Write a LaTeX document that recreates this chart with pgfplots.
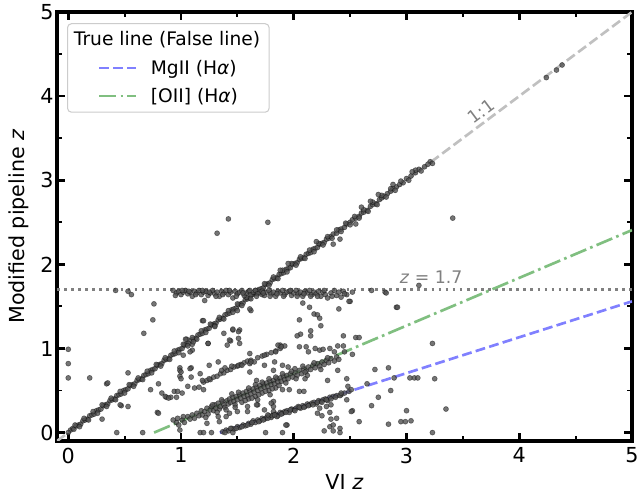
\documentclass[border=0pt]{standalone}
\usepackage{pgfplots}
\pgfplotsset{compat=1.18}
\usepackage{fontspec}
\setmainfont{DejaVu Sans}
\definecolor{silverc}{HTML}{C0C0C0}
\definecolor{mgcol}{HTML}{8080FF}
\definecolor{oiicol}{HTML}{80BF80}
\definecolor{grayc}{HTML}{808080}
\pgfplotsset{dotsty/.style={black, only marks, mark=*, mark size=1.9pt,
  mark options={draw=black, fill=black!68, fill opacity=0.8, draw opacity=0.45, line width=0.45pt}, forget plot}}
\begin{document}
\begin{tikzpicture}
\begin{axis}[
  at={(0,0)}, anchor=south west,
  scale only axis, width=431.25pt, height=321.75pt,
  xmin=-0.1, xmax=5, ymin=-0.1, ymax=5,
  xtick={0,1,2,3,4,5}, ytick={0,1,2,3,4,5}, minor tick num=1,
  tick align=inside, xtick pos=both, ytick pos=both,
  major tick length=6pt, minor tick length=3.5pt,
  major tick style={line width=2pt, black},
  minor tick style={line width=1.4pt, black},
  axis line style={line width=2.3pt},
  tick label style={font=\fontsize{15.5}{18.6}\selectfont},
  /pgf/number format/assume math mode=true,
  xlabel={VI \textit{z}}, ylabel={Modified pipeline \textit{z}},
  label style={font=\fontsize{15.5}{18.6}\selectfont},
  xlabel style={at={(axis description cs:0.5,-0.1142)}, anchor=base},
  ylabel style={at={(axis description cs:-0.0557,0.5)}, anchor=base},
  xticklabel style={yshift=-1.5pt},
  yticklabel style={xshift=1pt},
  legend style={at={(axis description cs:0.0174,0.974)}, anchor=north west,
    draw=black!20, line width=0.8pt, rounded corners=3pt, fill=white,
    fill opacity=0.8, draw opacity=1, text opacity=1,
    font=\fontsize{14}{16.8}\selectfont, inner xsep=4.75pt, inner ysep=4pt,
    row sep=5pt, nodes={inner sep=2pt}},
  legend cell align=left,
  legend image code/.code={\draw[#1] (0pt,0pt) -- (27.75pt,0pt); \path (-18pt,0pt) (35.75pt,0pt);},
]
\addlegendimage{empty legend}
\addlegendentry{\hspace*{-57.75pt}True line (False line)}

% 1:1 and z=1.7 reference lines
\addplot[silverc, line width=2pt, dash pattern=on 7.4pt off 3.2pt, forget plot] coordinates {(-0.2,-0.2) (5.2,5.2)};
\addplot[grayc, line width=2pt, dash pattern=on 2pt off 3.3pt, forget plot] coordinates {(-0.1,1.7) (5,1.7)};

% objects on the 1:1 line
\addplot[dotsty] table {
x y
0.02 0.03
0.04 0.05
0.05 0.04
0.07 0.08
0.09 0.09
0.11 0.10
0.13 0.14
0.15 0.15
0.17 0.16
0.19 0.20
0.21 0.21
0.23 0.22
0.25 0.26
0.27 0.27
0.29 0.28
0.31 0.32
0.33 0.33
0.35 0.34
0.37 0.38
0.39 0.39
0.41 0.40
0.43 0.44
0.45 0.45
0.47 0.46
0.49 0.50
0.51 0.51
0.53 0.52
0.55 0.56
0.57 0.57
0.59 0.58
0.61 0.62
0.63 0.63
0.65 0.64
0.67 0.68
0.69 0.69
0.71 0.70
0.73 0.74
0.75 0.75
0.77 0.76
0.79 0.80
0.81 0.81
0.83 0.82
0.85 0.86
0.87 0.87
0.89 0.88
0.91 0.92
0.93 0.93
0.95 0.94
0.97 0.98
0.99 0.99
1.01 1.00
1.03 1.04
1.05 1.05
1.07 1.06
1.09 1.10
1.11 1.11
1.13 1.12
1.15 1.16
1.17 1.17
1.19 1.18
1.21 1.22
1.23 1.23
1.25 1.24
1.27 1.28
1.29 1.29
1.31 1.30
1.33 1.34
1.35 1.35
1.37 1.36
1.39 1.40
1.41 1.41
1.43 1.42
1.45 1.46
1.47 1.47
1.49 1.48
1.51 1.52
1.53 1.53
1.55 1.54
1.57 1.58
1.59 1.59
1.61 1.60
1.63 1.64
1.65 1.65
1.67 1.66
1.69 1.70
1.71 1.71
1.73 1.72
1.75 1.76
1.77 1.77
1.79 1.78
1.81 1.82
1.83 1.83
1.85 1.84
1.87 1.88
1.89 1.89
1.91 1.90
1.93 1.94
1.95 1.95
1.97 1.96
1.99 2.00
2.01 2.01
2.03 2.02
2.05 2.06
2.07 2.07
2.09 2.08
2.11 2.12
2.13 2.13
2.15 2.14
2.17 2.18
2.19 2.19
2.21 2.20
2.23 2.24
2.25 2.25
2.27 2.26
2.29 2.30
2.31 2.31
2.33 2.33
2.35 2.36
2.38 2.37
2.40 2.41
2.42 2.42
2.45 2.44
2.47 2.48
2.50 2.50
2.52 2.53
2.55 2.55
2.58 2.57
2.60 2.61
2.62 2.62
2.65 2.64
2.68 2.69
2.70 2.71
2.73 2.72
2.76 2.77
2.78 2.79
2.80 2.81
2.83 2.84
2.86 2.87
2.88 2.90
2.91 2.92
2.94 2.95
2.97 2.97
3.00 3.02
3.04 3.05
3.08 3.09
3.11 3.13
3.16 3.16
3.21 3.22
3.23 3.20
0.06 0.09
0.10 0.07
0.14 0.17
0.18 0.15
0.22 0.25
0.26 0.23
0.30 0.33
0.34 0.31
0.38 0.41
0.42 0.39
0.46 0.49
0.50 0.47
0.54 0.57
0.58 0.55
0.62 0.65
0.66 0.63
0.70 0.73
0.74 0.71
0.78 0.81
0.82 0.79
0.86 0.89
0.90 0.87
0.94 0.97
0.98 0.95
1.02 1.05
1.06 1.03
1.10 1.13
1.14 1.11
1.18 1.21
1.22 1.19
1.26 1.29
1.30 1.27
1.34 1.37
1.38 1.35
1.42 1.45
1.46 1.43
1.50 1.53
1.54 1.51
1.58 1.61
1.62 1.59
1.66 1.69
1.70 1.67
1.74 1.77
1.78 1.75
1.82 1.85
1.86 1.83
1.90 1.93
1.94 1.91
1.98 2.01
2.02 1.99
2.06 2.09
2.10 2.07
2.14 2.17
2.18 2.15
2.22 2.25
2.26 2.23
2.30 2.33
2.34 2.31
2.38 2.41
2.42 2.39
2.46 2.49
2.50 2.47
2.54 2.57
2.58 2.55
2.62 2.65
2.66 2.63
2.70 2.74
2.74 2.71
2.78 2.82
2.82 2.80
2.86 2.90
2.90 2.88
2.95 2.99
3.02 3.00
3.08 3.12
3.13 3.11
3.19 3.19
1.95 2.01
2.20 2.27
2.60 2.68
2.75 2.83
2.55 2.48
2.88 2.95
3.05 3.10
2.68 2.75
1.72 1.64
1.50 1.45
1.30 1.26
1.88 1.93
2.35 2.24
2.41 2.30
4.24 4.22
4.33 4.31
4.38 4.37
};

% objects at the z = 1.7 pile-up
\addplot[dotsty] table {
x y
0.42 1.69
0.53 1.68
0.56 1.64
0.93 1.69
0.96 1.66
0.98 1.68
1.00 1.64
1.02 1.67
1.04 1.69
1.06 1.65
1.08 1.67
1.10 1.62
1.12 1.68
1.14 1.66
1.16 1.69
1.18 1.64
1.20 1.67
1.22 1.68
1.24 1.63
1.26 1.66
1.28 1.69
1.30 1.65
1.32 1.67
1.34 1.62
1.36 1.68
1.38 1.66
1.40 1.69
1.42 1.64
1.44 1.67
1.46 1.60
1.48 1.68
1.50 1.65
1.52 1.67
1.54 1.69
1.56 1.63
1.58 1.66
1.60 1.68
1.62 1.64
1.64 1.67
1.66 1.69
1.68 1.65
1.72 1.68
1.74 1.63
1.76 1.67
1.78 1.69
1.80 1.65
1.82 1.67
1.84 1.62
1.86 1.68
1.88 1.66
1.90 1.69
1.92 1.64
1.94 1.67
1.96 1.68
1.98 1.63
2.00 1.66
2.02 1.69
2.04 1.65
2.06 1.67
2.08 1.62
2.10 1.68
2.12 1.66
2.14 1.69
2.16 1.64
2.18 1.67
2.20 1.65
2.22 1.68
2.24 1.62
2.26 1.67
2.28 1.64
2.30 1.60
2.33 1.66
2.36 1.69
2.38 1.63
2.40 1.67
2.42 1.61
2.44 1.68
2.47 1.64
2.50 1.56
2.52 1.67
0.95 1.63
1.01 1.69
1.07 1.68
1.13 1.64
1.19 1.69
1.25 1.67
1.31 1.62
1.37 1.64
1.43 1.69
1.49 1.62
1.55 1.66
1.61 1.69
1.67 1.62
1.73 1.66
1.79 1.62
1.85 1.65
1.91 1.62
1.97 1.69
2.03 1.62
2.09 1.65
2.15 1.62
2.21 1.62
2.27 1.69
2.34 1.62
2.45 1.65
2.69 1.69
2.81 1.67
2.82 1.66
3.11 1.75
};

% objects along the [OII] (Halpha) locus
\addplot[dotsty] table {
x y
0.96 0.12
0.98 0.09
1.01 0.15
1.03 0.12
1.06 0.19
1.08 0.16
1.10 0.21
1.12 0.17
1.14 0.23
1.16 0.20
1.18 0.26
1.19 0.21
1.21 0.25
1.23 0.29
1.24 0.22
1.26 0.27
1.27 0.31
1.29 0.26
1.30 0.33
1.31 0.29
1.33 0.35
1.34 0.28
1.35 0.31
1.37 0.37
1.38 0.33
1.39 0.30
1.41 0.38
1.42 0.34
1.43 0.40
1.44 0.36
1.46 0.42
1.47 0.37
1.48 0.33
1.49 0.43
1.50 0.39
1.52 0.45
1.53 0.41
1.54 0.36
1.55 0.47
1.56 0.43
1.58 0.49
1.59 0.44
1.60 0.40
1.61 0.50
1.62 0.46
1.64 0.52
1.65 0.48
1.66 0.43
1.67 0.54
1.68 0.50
1.70 0.56
1.71 0.52
1.72 0.47
1.73 0.58
1.74 0.54
1.76 0.59
1.77 0.55
1.78 0.50
1.79 0.61
1.80 0.57
1.82 0.62
1.83 0.58
1.84 0.53
1.85 0.64
1.86 0.60
1.88 0.65
1.89 0.61
1.91 0.67
1.92 0.63
1.94 0.68
1.95 0.64
1.97 0.70
1.99 0.66
2.01 0.71
2.03 0.68
2.05 0.74
2.07 0.70
2.09 0.76
2.11 0.73
2.13 0.78
2.15 0.75
2.17 0.80
2.19 0.77
2.21 0.82
2.23 0.79
2.25 0.84
2.27 0.81
2.29 0.86
2.31 0.83
2.33 0.88
2.36 0.85
2.38 0.90
2.40 0.87
1.22 0.18
1.28 0.33
1.32 0.24
1.36 0.39
1.40 0.27
1.45 0.46
1.48 0.30
1.51 0.48
1.57 0.38
1.60 0.53
1.63 0.41
1.66 0.57
1.69 0.45
1.72 0.60
1.75 0.49
1.78 0.64
1.81 0.52
1.84 0.66
1.87 0.56
1.90 0.70
1.93 0.59
1.98 0.73
2.02 0.64
2.08 0.79
2.12 0.68
2.18 0.83
2.24 0.75
2.30 0.89
1.20 0.60
1.23 0.62
1.26 0.63
1.29 0.66
1.32 0.67
1.35 0.70
1.38 0.71
1.41 0.74
1.44 0.75
1.47 0.78
1.50 0.79
1.53 0.81
1.56 0.83
1.59 0.85
1.62 0.86
1.65 0.84
1.68 0.89
1.72 0.91
1.76 0.93
1.80 0.95
1.84 0.97
1.88 1.00
1.92 1.03
};

% objects along the MgII (Halpha) locus
\addplot[dotsty] table {
x y
1.37 0.01
1.40 0.03
1.42 0.02
1.45 0.05
1.47 0.04
1.50 0.07
1.52 0.06
1.55 0.09
1.57 0.08
1.60 0.11
1.62 0.10
1.64 0.14
1.66 0.12
1.68 0.15
1.70 0.14
1.72 0.17
1.74 0.16
1.76 0.18
1.78 0.20
1.80 0.18
1.82 0.21
1.84 0.22
1.86 0.20
1.88 0.24
1.90 0.23
1.92 0.25
1.94 0.26
1.96 0.24
1.98 0.28
2.00 0.27
2.02 0.29
2.04 0.31
2.06 0.29
2.08 0.32
2.10 0.31
2.12 0.34
2.14 0.33
2.16 0.35
2.18 0.36
2.20 0.34
2.22 0.38
2.24 0.37
2.26 0.39
2.28 0.40
2.30 0.38
2.32 0.42
2.35 0.43
2.38 0.44
2.42 0.45
2.45 0.47
2.49 0.49
1.39 0.00
1.44 0.05
1.49 0.05
1.54 0.07
1.59 0.09
1.63 0.12
1.69 0.13
1.73 0.15
1.77 0.17
1.81 0.20
1.85 0.19
1.89 0.22
1.93 0.24
1.97 0.27
2.01 0.26
2.05 0.30
2.09 0.30
2.13 0.32
2.17 0.33
2.21 0.36
2.25 0.36
2.29 0.39
2.33 0.40
2.37 0.42
2.41 0.44
};

% scattered objects
\addplot[dotsty] table {
x y
0.00 0.99
0.00 0.82
0.00 0.65
0.00 0.00
0.19 0.65
0.34 0.58
0.53 0.71
0.76 1.53
0.75 1.34
0.67 1.18
0.47 0.32
0.53 0.31
0.30 0.16
0.43 0.00
0.66 0.00
0.73 0.51
0.79 0.24
0.83 0.47
0.87 0.42
0.91 0.42
0.80 0.58
0.94 0.49
0.97 0.49
0.99 0.77
0.99 0.74
0.99 0.67
1.09 0.77
1.09 0.66
1.02 0.92
1.05 1.11
1.10 1.05
1.10 0.98
0.99 0.03
1.19 1.33
1.24 1.06
1.38 1.18
1.46 1.22
1.52 1.22
1.51 1.12
1.52 1.06
1.41 1.04
1.44 1.09
1.61 0.94
1.61 0.82
1.62 1.45
1.21 1.57
2.08 1.54
2.14 1.49
2.40 1.47
2.49 1.56
2.18 1.41
2.21 1.40
2.23 1.36
2.05 1.34
2.24 1.27
2.15 1.21
2.15 1.15
2.06 1.17
2.03 1.15
2.44 1.15
2.55 1.13
2.58 1.13
2.91 1.49
3.23 1.06
1.88 1.04
1.84 0.96
1.74 0.92
1.86 1.04
1.89 1.02
2.05 1.02
2.11 1.02
2.13 0.96
2.19 1.00
2.23 0.98
2.26 0.99
2.32 1.00
2.36 0.96
2.39 1.03
2.45 0.96
2.44 1.03
2.52 0.93
1.74 0.80
1.83 0.84
1.82 0.74
1.90 0.80
1.95 0.78
2.01 0.76
2.10 0.72
2.72 0.75
2.84 0.77
2.89 0.65
3.03 0.65
3.07 0.65
3.10 0.65
3.25 0.64
2.65 0.58
2.86 0.50
2.75 0.42
2.69 0.32
2.52 0.26
2.58 0.13
2.84 0.10
2.95 0.13
2.99 0.13
3.04 0.14
3.00 0.26
3.35 0.28
3.23 0.00
2.47 0.64
2.48 0.55
2.39 0.74
2.30 0.62
2.51 0.51
2.42 0.47
2.47 0.39
2.38 0.17
2.29 0.31
2.32 0.24
2.25 0.20
2.21 0.23
2.23 0.29
2.32 0.07
2.35 0.02
2.41 0.05
2.41 0.00
2.27 0.02
1.94 0.09
1.90 0.00
1.75 0.00
1.77 0.21
1.82 0.31
1.82 0.37
1.79 0.45
1.96 0.51
2.05 0.49
2.09 0.49
2.10 0.64
2.33 0.33
2.33 0.16
2.35 0.09
2.51 0.25
1.68 0.33
1.74 0.27
1.80 0.35
1.82 0.25
1.83 0.21
1.90 0.51
1.17 0.00
1.20 0.00
1.46 0.00
1.93 0.09
0.35 0.59
0.46 0.33
0.93 0.15
0.97 0.17
1.02 0.19
1.27 0.00
1.23 0.11
1.33 0.19
1.34 0.13
1.40 0.19
1.43 0.23
1.50 0.25
1.59 0.31
1.59 0.25
1.67 0.33
1.68 0.39
0.86 0.43
0.89 0.41
0.96 0.42
1.01 0.47
1.06 0.55
1.12 0.53
1.16 0.54
1.20 0.51
1.00 0.72
1.08 0.76
1.00 0.64
1.17 0.70
1.19 0.62
1.25 0.64
1.25 0.80
1.33 0.84
1.36 0.74
1.39 0.77
1.45 0.79
1.51 0.80
1.54 0.80
1.20 1.33
1.46 1.23
1.51 1.20
1.43 1.10
1.24 1.06
1.62 0.84
1.61 0.72
1.67 0.62
1.61 1.47
1.04 1.11
1.11 1.08
1.08 0.96
0.80 0.23
2.92 1.49
1.32 2.37
1.42 2.54
1.77 2.50
3.41 2.55
};

% false-line loci
\addplot[mgcol, line width=2pt, dash pattern=on 7.4pt off 3.2pt] coordinates {(1.344,0) (5,1.560)};
\addlegendentry{MgII (H\textit{α})}
\addplot[oiicol, line width=2pt, dash pattern=on 12.8pt off 3.2pt on 2pt off 3.2pt] coordinates {(0.761,0) (5,2.407)};
\addlegendentry{[OII] (H\textit{α})}

\node[grayc, rotate=36.7, font=\fontsize{13}{15.6}\selectfont] at (axis cs:3.66,3.82) {1:1};
\node[grayc, anchor=base west, font=\fontsize{13}{15.6}\selectfont] at (axis cs:2.90,1.775) {\textit{z} = 1.7};
\end{axis}
\pgfresetboundingbox
\useasboundingbox (-42.75pt,-40.5pt) rectangle (435.75pt,330.75pt);
\end{tikzpicture}
\end{document}
